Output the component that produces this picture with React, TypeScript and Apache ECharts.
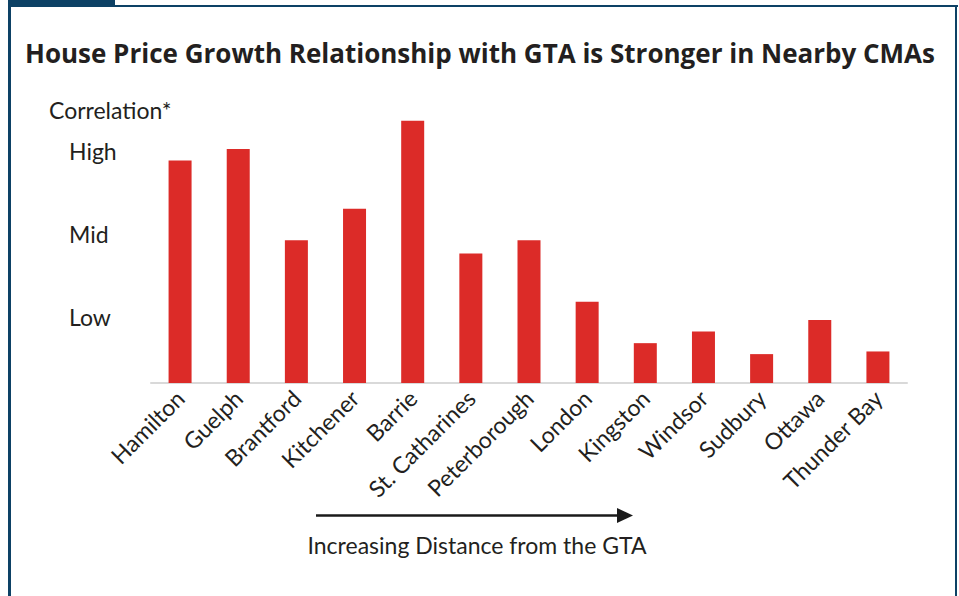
import React, { useEffect, useRef } from "react";
import * as echarts from "echarts";

const TITLE = "House Price Growth Relationship with GTA is Stronger in Nearby CMAs";
const Y_NAME = "Correlation*";
const X_NOTE = "Increasing Distance from the GTA";

const categories = [
  "Hamilton", "Guelph", "Brantford", "Kitchener", "Barrie", "St. Catharines",
  "Peterborough", "London", "Kingston", "Windsor", "Sudbury", "Ottawa", "Thunder Bay",
];
const correlation = [0.67, 0.705, 0.43, 0.525, 0.79, 0.39, 0.43, 0.245, 0.12, 0.155, 0.087, 0.19, 0.095];

const levelValues = [0.2, 0.45, 0.7];
const levelNames = ["Low", "Mid", "High"];

const FONT = "Lato, 'Open Sans', sans-serif";
const TITLE_FONT = "'Open Sans', Lato, sans-serif";
const NAVY = "#0d4165";
const RED = "#dc2b28";
const TEXT = "#231f20";

export default function App() {
  const ref = useRef<HTMLDivElement>(null);
  useEffect(() => {
    document.body.style.margin = "0";
    if (!ref.current) return;
    const chart = echarts.init(ref.current, undefined, { renderer: "svg" });
    chart.setOption({
      animation: false,
      backgroundColor: "#ffffff",
      grid: { left: 151, right: 52, top: 117.4, bottom: 213, containLabel: false },
      xAxis: {
        type: "category",
        data: categories,
        axisLine: { show: true, lineStyle: { color: "#d9d9d9", width: 2 } },
        axisTick: { show: false },
        axisLabel: {
          rotate: 45,
          interval: 0,
          margin: 11,
          color: TEXT,
          fontSize: 23,
          fontFamily: FONT,
        },
      },
      yAxis: {
        type: "value",
        min: 0,
        max: 0.8,
        splitLine: { show: false },
        axisLine: { show: false },
        axisTick: { show: false },
        axisLabel: {
          customValues: levelValues,
          formatter: (v: number) => {
            const i = levelValues.findIndex((x) => Math.abs(x - v) < 1e-6);
            return i >= 0 ? levelNames[i] : "";
          },
          align: "left",
          margin: 82,
          color: TEXT,
          fontSize: 23,
          fontFamily: FONT,
        },
      },
      series: [
        {
          type: "bar",
          data: correlation,
          barWidth: 23,
          itemStyle: { color: RED },
        },
      ],
      graphic: [
        { type: "rect", shape: { x: 8, y: 0, width: 107, height: 6 }, style: { fill: NAVY } },
        { type: "rect", shape: { x: 8, y: 5, width: 950, height: 2 }, style: { fill: NAVY } },
        { type: "rect", shape: { x: 8, y: 0, width: 3, height: 596 }, style: { fill: NAVY } },
        { type: "rect", shape: { x: 955, y: 5, width: 2, height: 591 }, style: { fill: NAVY } },
        {
          type: "text",
          x: 25,
          y: 53,
          style: {
            text: TITLE, fill: TEXT, fontSize: 26, fontWeight: "bold", fontFamily: TITLE_FONT,
            verticalAlign: "middle",
          },
        },
        {
          type: "text",
          x: 49,
          y: 110,
          style: { text: Y_NAME, fill: TEXT, fontSize: 23, fontFamily: FONT, verticalAlign: "middle" },
        },
        {
          type: "line",
          shape: { x1: 316, y1: 515.5, x2: 620, y2: 515.5 },
          style: { stroke: "#1a1a1a", lineWidth: 2.5 },
        },
        {
          type: "polygon",
          shape: { points: [[617, 508], [633, 515.5], [617, 523]] },
          style: { fill: "#1a1a1a" },
        },
        {
          type: "text",
          x: 477,
          y: 545,
          style: {
            text: X_NOTE,
            fill: TEXT,
            fontSize: 23,
            fontFamily: FONT,
            align: "center",
            verticalAlign: "middle",
          },
        },
      ],
    });
    return () => chart.dispose();
  }, []);
  return <div ref={ref} style={{ width: 959, height: 596 }} />;
}
